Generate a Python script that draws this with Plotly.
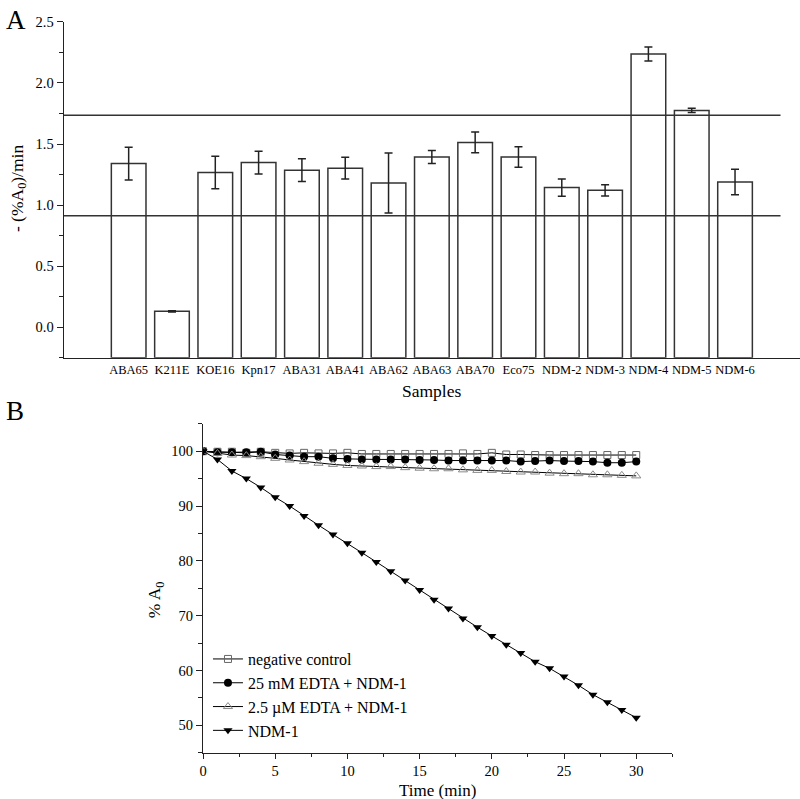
import plotly.graph_objects as go

# ---------------- Panel A data ----------------
samples = ["ABA65", "K211E", "KOE16", "Kpn17", "ABA31", "ABA41", "ABA62", "ABA63",
           "ABA70", "Eco75", "NDM-2", "NDM-3", "NDM-4", "NDM-5", "NDM-6"]
rates = [1.340, 0.130, 1.267, 1.348, 1.286, 1.302, 1.181, 1.394,
         1.513, 1.394, 1.143, 1.121, 2.237, 1.775, 1.189]
rate_err = [0.134, 0.005, 0.133, 0.093, 0.093, 0.089, 0.245, 0.053,
            0.085, 0.084, 0.070, 0.046, 0.058, 0.017, 0.105]
cutoffs = [1.735, 0.913]
bar_base = -0.25

# ---------------- Panel B data ----------------
time_min = list(range(31))
neg_control = [100.0, 99.9, 99.9, 99.7, 99.9, 99.7, 99.6, 99.7, 99.6, 99.6, 99.7,
               99.5, 99.5, 99.5, 99.5, 99.5, 99.5, 99.5, 99.6, 99.5, 99.7,
               99.4, 99.4, 99.3, 99.3, 99.3, 99.3, 99.3, 99.3, 99.3, 99.3]
edta_25mM = [100.0, 99.8, 99.8, 99.8, 99.9, 99.4, 99.2, 99.0, 99.0, 98.7, 98.6,
             98.5, 98.5, 98.5, 98.5, 98.4, 98.4, 98.3, 98.3, 98.3, 98.3,
             98.3, 98.1, 98.2, 98.3, 98.2, 98.2, 98.1, 97.9, 97.9, 98.1]
edta_2_5uM = [100.0, 99.6, 99.3, 99.2, 99.0, 98.7, 98.4, 98.1, 97.8, 97.6, 97.4,
              97.3, 97.2, 97.2, 97.0, 96.9, 96.8, 96.8, 96.6, 96.5, 96.5,
              96.3, 96.2, 96.2, 96.0, 95.9, 95.9, 95.7, 95.7, 95.6, 95.5]
ndm1 = [100.0, 98.5, 96.4, 95.0, 93.4, 91.6, 90.0, 88.2, 86.5, 84.8, 83.2,
        81.5, 79.8, 78.1, 76.4, 74.7, 72.9, 71.3, 69.5, 67.9, 66.3,
        64.7, 63.2, 61.6, 60.4, 58.9, 57.3, 55.6, 54.2, 52.8, 51.4]

FONT = "Liberation Serif, Times New Roman, serif"
INK = "#222222"
W, H = 800, 799

fig = go.Figure()

# Panel A bars (drawn from the bottom of the axis)
fig.add_trace(go.Bar(
    x=samples, y=[v - bar_base for v in rates], base=bar_base, width=0.8,
    marker=dict(color="white", line=dict(color="#333333", width=1.5)),
    error_y=dict(type="data", array=rate_err, color=INK, thickness=1.5, width=4),
    showlegend=False, xaxis="x", yaxis="y"))

# Panel B series
series = [
    ("negative control", neg_control, dict(symbol="square-open", size=7, color="#666666")),
    ("25 mM EDTA + NDM-1", edta_25mM, dict(symbol="circle", size=8, color="black")),
    ("2.5 \u00b5M EDTA + NDM-1", edta_2_5uM, dict(symbol="triangle-up-open", size=8, color="#8a8a8a")),
    ("NDM-1", ndm1, dict(symbol="triangle-down", size=8, color="black")),
]
for name, vals, mk in series:
    fig.add_trace(go.Scatter(
        x=time_min, y=vals, name=name, mode="lines+markers",
        line=dict(color="black", width=1), marker=mk,
        xaxis="x2", yaxis="y2"))

# cutoff lines in panel A
for c in cutoffs:
    fig.add_shape(type="line", xref="x", yref="y", x0=-1.5, x1=15.05, y0=c, y1=c,
                  line=dict(color="#333333", width=1.5))

ax_common = dict(showline=True, linecolor=INK, linewidth=1.3, zeroline=False,
                 showgrid=False, mirror=False)

fig.update_layout(
    width=W, height=H, plot_bgcolor="white", paper_bgcolor="white",
    margin=dict(l=0, r=0, t=0, b=0),
    font=dict(family=FONT, color="black"),
    bargap=0.2,
    xaxis=dict(domain=[60 / W, 1.0], anchor="y", range=[-1.5, 15.5],
               ticks="", tickfont=dict(size=12.5, family=FONT), **ax_common),
    yaxis=dict(domain=[1 - 353.3 / H, 1 - 14 / H], anchor="x", range=[-0.25, 2.5],
               tickmode="array", tickvals=[0, 0.5, 1.0, 1.5, 2.0, 2.5],
               ticktext=["0.0", "0.5", "1.0", "1.5", "2.0", "2.5"],
               ticks="outside", ticklen=6, tickwidth=1.3, tickcolor=INK,
               minor=dict(dtick=0.25, tick0=0, ticks="outside", ticklen=3.5, tickwidth=1.3, tickcolor=INK),
               tickfont=dict(size=14.5, family=FONT), **ax_common),
    xaxis2=dict(domain=[200 / W, 671.7 / W], anchor="y2", range=[0, 32.5],
                tick0=0, dtick=5, ticks="outside", ticklen=5, tickwidth=1.3, tickcolor=INK,
                minor=dict(dtick=2.5, tick0=0, ticks="outside", ticklen=3.5, tickwidth=1.3, tickcolor=INK),
                tickfont=dict(size=14.5, family=FONT), **ax_common),
    yaxis2=dict(domain=[1 - 752.3 / H, 1 - 420 / H], anchor="x2", range=[45, 105],
                tick0=0, dtick=10, ticks="outside", ticklen=6, tickwidth=1.3, tickcolor=INK,
                minor=dict(dtick=5, tick0=0, ticks="outside", ticklen=3.5, tickwidth=1.3, tickcolor=INK),
                tickfont=dict(size=14.5, family=FONT), **ax_common),
    legend=dict(x=205 / W, y=1 - 694 / H, xanchor="left", yanchor="middle",
                bgcolor="rgba(0,0,0,0)", font=dict(size=16, family=FONT),
                itemwidth=30, tracegroupgap=0),
)

ann = [
    dict(text="A", x=0 / W, y=1 - 12 / H, font=dict(size=27)),
    dict(text="B", x=0 / W, y=1 - 407 / H, font=dict(size=27)),
    dict(text="- (%A<sub>0</sub>)/min", x=14 / W, y=1 - 182 / H, textangle=-90, font=dict(size=17.5)),
    dict(text="Samples", x=430 / W, y=1 - 387 / H, font=dict(size=17.5)),
    dict(text="% A<sub>0</sub>", x=152 / W, y=1 - 598 / H, textangle=-90, font=dict(size=17.5)),
    dict(text="Time (min)", x=436 / W, y=1 - 790 / H, font=dict(size=17)),
]
for a in ann:
    f = a.pop("font")
    f["family"] = FONT
    f["color"] = "black"
    xa = "left" if a["text"] in ("A", "B") else "center"
    fig.add_annotation(xref="paper", yref="paper", showarrow=False,
                       xanchor=xa, yanchor="middle", font=f, **a)

fig.write_html("out.html", config={"displayModeBar": False},
               post_script="document.body.style.margin='0px';document.body.style.overflow='hidden';")
